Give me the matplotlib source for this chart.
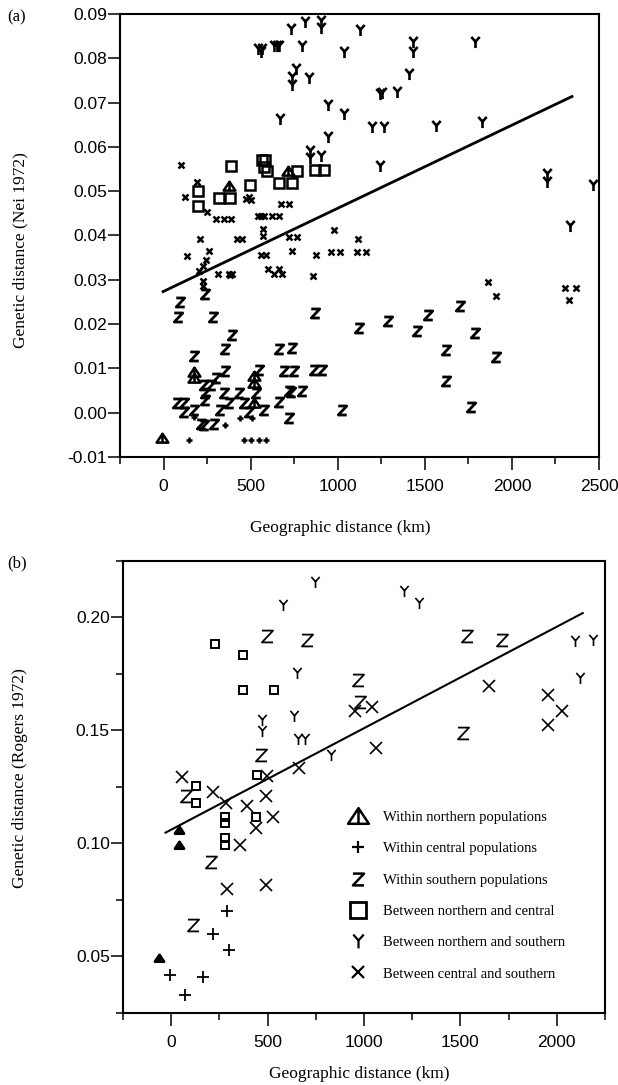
import numpy as np
from matplotlib import pyplot
from matplotlib.path import Path
from matplotlib.lines import Line2D
from matplotlib.ticker import FixedLocator, FormatStrFormatter


# Panel (a): Nei 1972 distances
A_NORTH_X = [378, 714, 173, 173, 518, 518, 518, -10]
A_NORTH_Y = [0.0512, 0.0545, 0.0093, 0.0078, 0.0082, 0.0067, 0.0021, -0.0058]

A_CENTRAL_X = [173, 351, 441, 505, 144, 461, 501, 547, 590]
A_CENTRAL_Y = [-0.0010, -0.0028, -0.0013, -0.0013, -0.0062, -0.0062, -0.0062, -0.0062, -0.0062]

A_SOUTH_X = [240, 96, 83, 282, 870, 1123, 394, 351, 662, 735, 173, 351, 301, 547, 691,
             749, 864, 912, 230, 275, 240, 346, 432, 528, 720, 730, 797, 77, 115, 240,
             374, 461, 662, 115, 173, 326, 490, 576, 1023, 720, 215, 230, 288,
             1286, 1453, 1517, 1703, 1786, 1619, 1907, 1619, 1767]
A_SOUTH_Y = [0.0267, 0.0251, 0.0217, 0.0217, 0.0224, 0.0191, 0.0176, 0.0144, 0.0144, 0.0147,
             0.0127, 0.0095, 0.0078, 0.0097, 0.0095, 0.0095, 0.0097, 0.0097, 0.0063, 0.0063,
             0.0045, 0.0045, 0.0045, 0.0045, 0.0048, 0.0046, 0.0048, 0.0023, 0.0023, 0.0029,
             0.0023, 0.0023, 0.0025, 0.0002, 0.0005, 0.0006, 0.0002, 0.0005, 0.0006, -0.0013,
             -0.0025, -0.0027, -0.0025,
             0.0208, 0.0184, 0.0221, 0.0240, 0.0181, 0.0142, 0.0126, 0.0072, 0.0012]

A_NC_X = [196, 198, 388, 317, 384, 495, 565, 585, 575, 594, 768, 662, 735, 870, 922]
A_NC_Y = [0.0500, 0.0466, 0.0558, 0.0484, 0.0484, 0.0515, 0.0570, 0.0570, 0.0555, 0.0545,
          0.0545, 0.0518, 0.0518, 0.0547, 0.0547]

A_NS_X = [730, 812, 902, 902, 1127, 545, 557, 565, 635, 650, 665, 793, 1037, 758, 735,
          735, 835, 666, 945, 1037, 945, 840, 840, 904, 1430, 1430, 1786, 1407, 1240, 1255,
          1343, 1199, 1267, 1565, 1830, 1242, 2199, 2199, 2464, 2333]
A_NS_Y = [0.0866, 0.0883, 0.0884, 0.0868, 0.0865, 0.0820, 0.0815, 0.0822, 0.0828, 0.0828,
          0.0828, 0.0828, 0.0815, 0.0776, 0.0757, 0.0739, 0.0755, 0.0662, 0.0694, 0.0674,
          0.0622, 0.0590, 0.0576, 0.0579, 0.0837, 0.0814, 0.0837, 0.0764, 0.0719, 0.0722,
          0.0723, 0.0644, 0.0644, 0.0647, 0.0656, 0.0557, 0.0538, 0.0520, 0.0515, 0.0421]

A_CS_X = [102, 192, 121, 250, 300, 345, 390, 475, 490, 500, 672, 720, 545, 560, 575,
          625, 665, 570, 570, 211, 421, 450, 720, 766, 979, 1114, 134, 263, 557, 586,
          735, 873, 960, 1012, 1113, 1163, 242, 225, 206, 227, 225, 313, 375, 384, 393,
          601, 662, 634, 682, 858, 1862, 1907, 2304, 2367, 2329]
A_CS_Y = [0.0559, 0.0521, 0.0488, 0.0453, 0.0438, 0.0438, 0.0438, 0.0482, 0.0486, 0.0480,
          0.0472, 0.0472, 0.0444, 0.0444, 0.0444, 0.0444, 0.0444, 0.0414, 0.0398, 0.0392,
          0.0392, 0.0392, 0.0397, 0.0397, 0.0412, 0.0393, 0.0353, 0.0364, 0.0357, 0.0357,
          0.0364, 0.0357, 0.0362, 0.0362, 0.0362, 0.0362, 0.0344, 0.0332, 0.0319, 0.0297,
          0.0286, 0.0312, 0.0314, 0.0311, 0.0314, 0.0325, 0.0325, 0.0312, 0.0312, 0.0308,
          0.0294, 0.0264, 0.0282, 0.0282, 0.0255]

# regression line (a): intercept, slope, x range
A_FIT = (0.02739, 1.876e-5)
A_FIT_X = [-10, 2352]


# Panel (b): Rogers 1972 distances
B_NORTH_X = [43, 43, -65]
B_NORTH_Y = [0.1060, 0.0994, 0.0492]

B_CENTRAL_X = [291, 217, 298, -8, 165, 73]
B_CENTRAL_Y = [0.0699, 0.0599, 0.0529, 0.0419, 0.0407, 0.0330]

B_SOUTH_X = [499, 706, 970, 979, 464, 78, 205, 113, 1532, 1718, 1515]
B_SOUTH_Y = [0.1916, 0.1901, 0.1724, 0.1628, 0.1392, 0.1208, 0.0917, 0.0640, 0.1916, 0.1901, 0.1488]

B_NC_X = [225, 372, 372, 534, 445, 130, 130, 442, 280, 280, 280, 280]
B_NC_Y = [0.1882, 0.1835, 0.1680, 0.1680, 0.1304, 0.1252, 0.1178, 0.1119, 0.1115, 0.1090, 0.1023, 0.0994]

B_NS_X = [748, 580, 655, 637, 471, 471, 658, 696, 831, 1209, 1285, 2096, 2190, 2121]
B_NS_Y = [0.2156, 0.2056, 0.1754, 0.1566, 0.1547, 0.1498, 0.1463, 0.1463, 0.1392, 0.2115,
          0.2063, 0.1897, 0.1901, 0.1731]

B_CS_X = [953, 662, 499, 56, 217, 494, 286, 395, 528, 442, 355, 291, 494, 1043, 1649,
          1953, 2026, 1953, 1060]
B_CS_Y = [0.1584, 0.1333, 0.1297, 0.1292, 0.1227, 0.1208, 0.1178, 0.1164, 0.1115, 0.1068,
          0.0991, 0.0799, 0.0817, 0.1602, 0.1695, 0.1658, 0.1587, 0.1522, 0.1422]

B_FIT = (0.1061, 4.49e-5)
B_FIT_X = [-34, 2139]

LABELS = [
    "Within northern populations",
    "Within central populations",
    "Within southern populations",
    "Between northern and central",
    "Between northern and southern",
    "Between central and southern",
]

SERIF = "Liberation Serif"
SANS = "Liberation Sans"


# Marker shapes drawn as open paths
def yMarker():
    verts = [(0, -1), (0, 0.15), (0, 0.15), (-0.75, 1), (0, 0.15), (0.75, 1)]
    codes = [Path.MOVETO, Path.LINETO] * 3
    return Path(verts, codes)

def zMarker():
    verts = [(-0.8, 0.85), (0.8, 0.85), (-0.8, -0.85), (0.8, -0.85)]
    codes = [Path.MOVETO, Path.LINETO, Path.LINETO, Path.LINETO]
    return Path(verts, codes)

def triMarker():
    verts = [(-1, -0.7), (1, -0.7), (0, 0.8), (-1, -0.7), (0, -0.7), (0, 0.8)]
    codes = [Path.MOVETO, Path.LINETO, Path.LINETO, Path.CLOSEPOLY, Path.MOVETO, Path.LINETO]
    return Path(verts, codes)

MARKERS = [triMarker(), "+", zMarker(), "s", yMarker(), "x"]

# (markersize, edgewidth) per group for each panel
SIZES_A = [(8.5, 1.8), (4.5, 1.8), (6.5, 2.0), (7, 1.8), (8, 1.9), (4.2, 1.8)]
SIZES_B = [(6.5, 2.0), (9, 1.3), (8.5, 1.3), (5.5, 1.4), (8, 1.2), (9, 1.2)]
SIZES_LEG = [(15, 1.8), (9, 1.6), (8.5, 1.8), (11, 2.0), (10, 1.6), (9, 1.6)]


def drawGroups(ax, groups, sizes):
    for (xs, ys), marker, (ms, mew) in zip(groups, MARKERS, sizes):
        ax.plot(xs, ys, linestyle="none", marker=marker, markersize=ms,
                markeredgewidth=mew, markeredgecolor="black", markerfacecolor="none")

def drawFit(ax, fit, xr, lw):
    xs = np.array(xr, dtype=float)
    ax.plot(xs, fit[0] + fit[1] * xs, color="black", linewidth=lw, solid_capstyle="butt")

def styleAxes(ax):
    for side in ["left", "right", "top", "bottom"]:
        ax.spines[side].set_linewidth(1.5)
    ax.tick_params(which="both", direction="out", width=1.1, top=False, right=False)
    ax.tick_params(which="major", length=9)
    ax.tick_params(which="minor", length=5)
    ax.tick_params(axis="x", pad=7)
    ax.tick_params(axis="y", pad=0.5)
    for lab in ax.get_xticklabels() + ax.get_yticklabels():
        lab.set_fontfamily(SANS)
        lab.set_fontsize(12.5)


pyplot.rcParams["axes.unicode_minus"] = False
fig = pyplot.figure(figsize=(6.18, 10.85), dpi=100)

# Panel (a)
axA = fig.add_axes([0.1942, 0.5788, 0.7751, 0.4083])
groupsA = [(A_NORTH_X, A_NORTH_Y), (A_CENTRAL_X, A_CENTRAL_Y), (A_SOUTH_X, A_SOUTH_Y),
           (A_NC_X, A_NC_Y), (A_NS_X, A_NS_Y), (A_CS_X, A_CS_Y)]
drawFit(axA, A_FIT, A_FIT_X, 2.0)
drawGroups(axA, groupsA, SIZES_A)
axA.set_xlim(-250, 2500)
axA.set_ylim(-0.01, 0.09)
axA.xaxis.set_major_locator(FixedLocator([0, 500, 1000, 1500, 2000, 2500]))
axA.xaxis.set_minor_locator(FixedLocator([-250, 250, 750, 1250, 1750, 2250]))
axA.yaxis.set_major_locator(FixedLocator(np.arange(-0.01, 0.0901, 0.01)))
axA.yaxis.set_major_formatter(FormatStrFormatter("%.2f"))
styleAxes(axA)
axA.set_xlabel("Geographic distance (km)", fontfamily=SERIF, fontsize=12.5)
axA.set_ylabel("Genetic distance (Nei 1972)", fontfamily=SERIF, fontsize=12.5)
axA.xaxis.set_label_coords(0.459, -0.142)
axA.yaxis.set_label_coords(-0.192, 0.467)

# Panel (b)
axB = fig.add_axes([0.1990, 0.0664, 0.7800, 0.4166])
groupsB = [(B_NORTH_X, B_NORTH_Y), (B_CENTRAL_X, B_CENTRAL_Y), (B_SOUTH_X, B_SOUTH_Y),
           (B_NC_X, B_NC_Y), (B_NS_X, B_NS_Y), (B_CS_X, B_CS_Y)]
drawFit(axB, B_FIT, B_FIT_X, 1.5)
drawGroups(axB, groupsB, SIZES_B)
axB.set_xlim(-250, 2250)
axB.set_ylim(0.025, 0.225)
axB.xaxis.set_major_locator(FixedLocator([0, 500, 1000, 1500, 2000]))
axB.xaxis.set_minor_locator(FixedLocator([-250, 250, 750, 1250, 1750, 2250]))
axB.yaxis.set_major_locator(FixedLocator([0.05, 0.10, 0.15, 0.20]))
axB.yaxis.set_minor_locator(FixedLocator([0.025, 0.075, 0.125, 0.175, 0.225]))
axB.yaxis.set_major_formatter(FormatStrFormatter("%.2f"))
styleAxes(axB)
axB.set_xlabel("Geographic distance (km)", fontfamily=SERIF, fontsize=12.5)
axB.set_ylabel("Genetic distance (Rogers 1972)", fontfamily=SERIF, fontsize=12.5)
axB.xaxis.set_label_coords(0.49, -0.117)
axB.yaxis.set_label_coords(-0.197, 0.52)

# Legend
handles = []
for marker, (ms, mew) in zip(MARKERS, SIZES_LEG):
    handles.append(Line2D([], [], linestyle="none", marker=marker, markersize=ms,
                          markeredgewidth=mew, markeredgecolor="black", markerfacecolor="none"))
axB.legend(handles, LABELS, loc="upper left", bbox_to_anchor=(0.466, 0.447),
           frameon=False, handlelength=1.45, handletextpad=0.95, labelspacing=1.24,
           borderpad=0, borderaxespad=0, numpoints=1,
           prop={"family": SERIF, "size": 10.5})

# Panel letters
fig.text(7 / 618, 1 - 17 / 1085, "(a)", fontfamily=SERIF, fontsize=12, va="center", ha="left")
fig.text(7 / 618, 1 - 563 / 1085, "(b)", fontfamily=SERIF, fontsize=12, va="center", ha="left")

fig.savefig("out.png", dpi=100)
